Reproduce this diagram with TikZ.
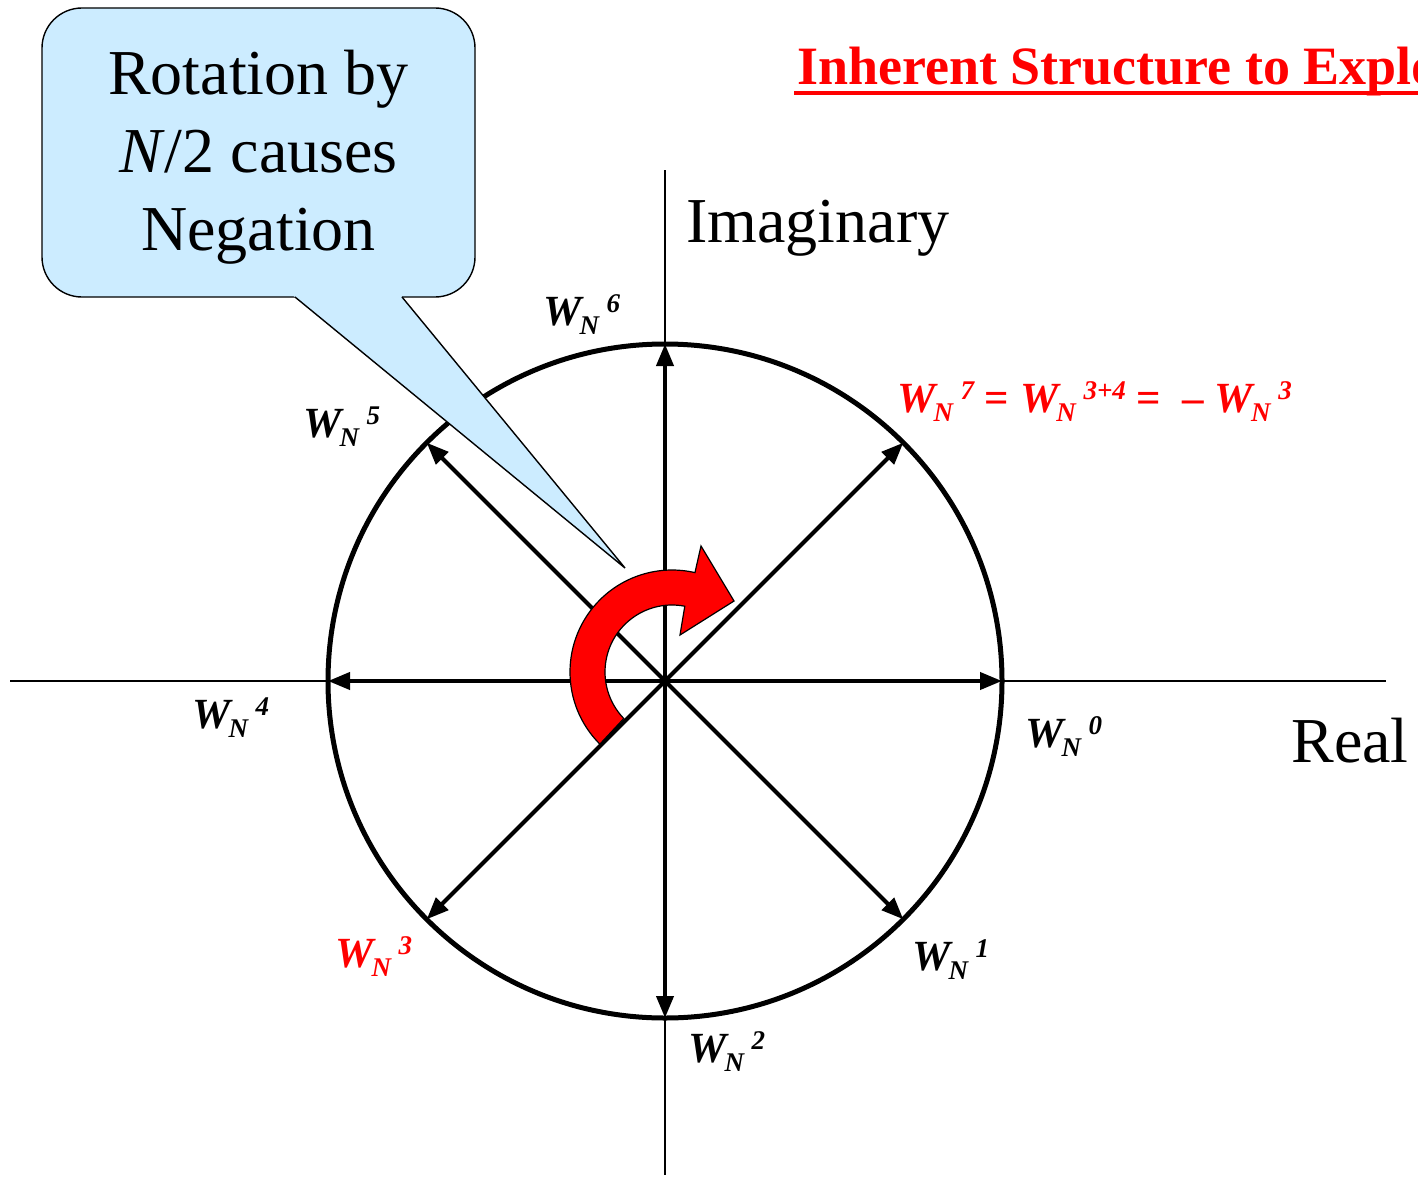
\documentclass[tikz,border=0pt]{standalone}
\usepackage{graphicx}
\usepackage{fontspec}
\setmainfont{Liberation Serif}
\usepackage{tikz}
\usetikzlibrary{arrows.meta,positioning,calc}
\definecolor{slidered}{RGB}{255,0,0}
\definecolor{softsky}{RGB}{204,236,255}
\newcommand{\twid}[1]{{\itshape W\kern-1pt\raisebox{-4.5pt}{\fontsize{13.5}{13.5}\selectfont N}\kern3.8pt\raisebox{6.5pt}{\fontsize{13.5}{13.5}\selectfont #1}}}

\begin{document}
\begin{tikzpicture}[x=0.5pt, y=-0.5pt,
    axis/.style={draw=black, line width=0.8pt},
    ring/.style={draw=black, line width=2.5pt},
    vec/.style={-{Triangle[length=11pt,width=8.5pt]}, line width=2pt},
    lbl/.style={anchor=base west, inner sep=0pt, font=\fontsize{21.5}{21.5}\selectfont\bfseries},
    bigtext/.style={anchor=base west, inner sep=0pt, font=\fontsize{32}{39}\selectfont},
    callout/.style={rounded corners=20pt, draw=black, line width=0.7pt, fill=softsky, align=center, minimum width=216.5pt, minimum height=144.5pt, font=\fontsize{32}{39}\selectfont},
    turn/.style={draw=black, line width=0.6pt, fill=slidered}
]
\useasboundingbox (0,0) rectangle (1418,1177);
\clip (0,0) rectangle (1418,1177);

% axes and unit circle
\coordinate (o) at (665,681);
\coordinate (xl) at (10,681);
\coordinate (xr) at (1386,681);
\coordinate (yt) at (665,170);
\coordinate (yb) at (665,1175);
\draw[axis] (xl) -- (xr);
\draw[axis] (yt) -- (yb);
\draw[ring] (o) circle[radius=337];

\foreach \k in {0,...,7}{
  \path (o) ++(\k*45:337) coordinate (p\k);
  \draw[vec] (o) -- (p\k);
}

% callout
\node[callout] (note) at (258.5,152.5) {\rule{0pt}{27pt}Rotation by\\\textit{N}/2 causes\\Negation};
\coordinate (tip) at (625,568);
\fill[softsky] (290,293) -- (399,293) -- (tip) -- cycle;
\draw[line width=0.7pt] (295,297) -- (tip) -- (402,297);

% rotation arrow
\path[turn] (672,672) ++(135:102) arc[start angle=135, end angle=283, radius=102]
  -- (701,546) -- (734,601) -- (680,635) -- ($(672,672)+(281:67)$)
  arc[start angle=281, end angle=136, radius=67] -- cycle;

\node[lbl] (w0) at (1025,747) {\twid{0}};
\node[lbl] (w1) at (912,970) {\twid{1}};
\node[lbl] (w2) at (688,1062) {\twid{2}};
\node[lbl, text=slidered] (w3) at (335,967) {\twid{3}};
\node[lbl] (w4) at (192,728) {\twid{4}};
\node[lbl] (w5) at (303,437) {\twid{5}};
\node[lbl] (w6) at (543,325) {\twid{6}};
\node[lbl, text=slidered] (w7) at (897,412) {\twid{7} = \twid{3+4} =\ \ \textendash\ \twid{3}};

\node[bigtext] (imag) at (686,242) {Imaginary};
\node[bigtext] (real) at (1291,762) {Real};

\node[anchor=base west, inner sep=0pt, text=slidered, font=\fontsize{27}{27}\selectfont\bfseries] (ttl) at (797,85) {Inherent Structure to Exploit};
\draw[slidered, line width=2pt] ([xshift=-1.5pt,yshift=-4pt]ttl.base west) -- ([yshift=-4pt]ttl.base east);
\end{tikzpicture}
\end{document}
